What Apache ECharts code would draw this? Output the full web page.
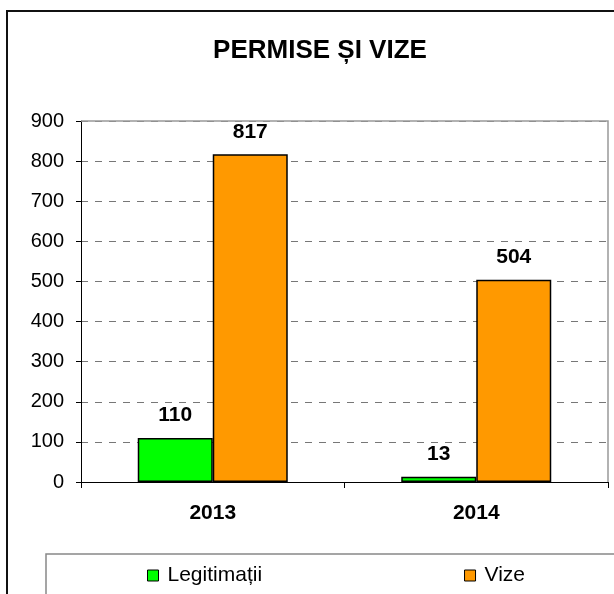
<!DOCTYPE html>
<html>
<head>
<meta charset="utf-8">
<script src="https://cdn.jsdelivr.net/npm/echarts@6/dist/echarts.min.js"></script>
<style>
  html, body { margin: 0; padding: 0; background: #fff; }
  #main { width: 614px; height: 594px; }
</style>
</head>
<body>
<div id="main"></div>
<script>
// date
var years = ['2013', '2014'];
var legitimatii = [110, 13];
var vize = [817, 504];
var yTicks = [0, 100, 200, 300, 400, 500, 600, 700, 800, 900];

var font = '"Liberation Sans", Arial, sans-serif';
var myChart = echarts.init(document.getElementById('main'));

var barLabel = {
  show: true,
  position: 'top',
  distance: 12,
  fontFamily: font,
  fontSize: 21,
  fontWeight: 'bold',
  color: '#000'
};

var option = {
  animation: false,
  backgroundColor: '#fff',
  title: {
    text: 'PERMISE ȘI VIZE',
    left: 315,
    top: 33,
    textAlign: 'center',
    textStyle: { fontFamily: font, fontSize: 26, fontWeight: 'bold', color: '#000' }
  },
  graphic: [
    // chenarul exterior
    { type: 'rect', shape: { x: 7, y: 11, width: 700, height: 700 },
      style: { fill: 'none', stroke: '#111', lineWidth: 2 }, z: 100 },
    // chenarul legendei
    { type: 'rect', shape: { x: 46, y: 554, width: 700, height: 100 },
      style: { fill: 'none', stroke: '#888', lineWidth: 1.5 }, z: 100 },
    // marginea sus / dreapta a zonei de desen
    { type: 'polyline', shape: { points: [[81, 121], [608, 121], [608, 482]] },
      style: { fill: 'none', stroke: '#999', lineWidth: 1.5 }, z: 1 }
  ],
  legend: {
    left: 142,
    top: 560,
    itemWidth: 11,
    itemHeight: 11,
    itemGap: 202,
    icon: 'rect',
    itemStyle: { borderColor: '#000', borderWidth: 1 },
    textStyle: { fontFamily: font, fontSize: 21, color: '#000', padding: [0, 0, 0, 4] },
    data: ['Legitimații', 'Vize']
  },
  grid: { left: 81, top: 121, right: 6, bottom: 112, containLabel: false },
  xAxis: {
    type: 'category',
    data: years,
    axisLine: { lineStyle: { color: '#000', width: 1 } },
    axisTick: { show: true, length: 6, lineStyle: { color: '#000' } },
    axisLabel: { margin: 21, fontFamily: font, fontSize: 21, fontWeight: 'bold', color: '#000' }
  },
  yAxis: {
    type: 'value',
    min: 0,
    max: yTicks[yTicks.length - 1],
    interval: 100,
    axisLine: { show: true, lineStyle: { color: '#000', width: 1 } },
    axisTick: { show: true, length: 5, lineStyle: { color: '#000' } },
    axisLabel: { margin: 17, fontFamily: font, fontSize: 20, color: '#000' },
    splitLine: { show: true, lineStyle: { color: '#777', type: [7, 7], width: 1 } }
  },
  series: [
    {
      name: 'Legitimații',
      type: 'bar',
      data: legitimatii,
      barWidth: 75,
      barGap: '0%',
      itemStyle: { color: '#00ff00', borderColor: '#000', borderWidth: 1.5 },
      label: barLabel
    },
    {
      name: 'Vize',
      type: 'bar',
      data: vize,
      barWidth: 75,
      barGap: '0%',
      itemStyle: { color: '#ff9900', borderColor: '#000', borderWidth: 1.5 },
      label: barLabel
    }
  ]
};
myChart.setOption(option);
</script>
</body>
</html>
